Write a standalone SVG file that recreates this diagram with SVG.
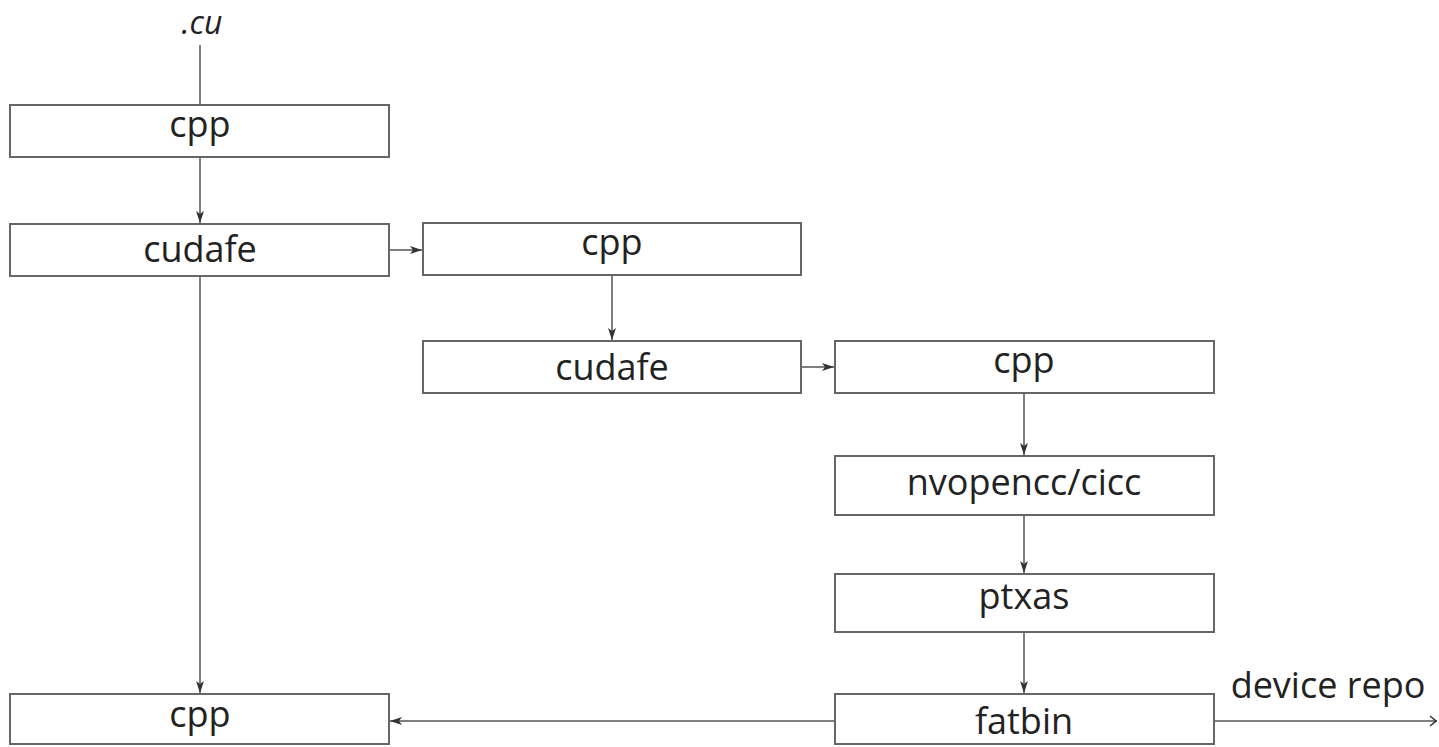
<svg xmlns="http://www.w3.org/2000/svg" width="1439" height="747" viewBox="0 0 1439 747">
<defs>
<style>
.box{fill:#fff;stroke:#666;stroke-width:2}
.t{font-family:"Open Sans","DejaVu Sans",sans-serif;font-size:36px;fill:#222;text-anchor:middle}
.c{stroke:#555;stroke-width:1.5;fill:none}
</style>
<marker id="ah" viewBox="0 0 12 10" refX="12" refY="5" markerWidth="12" markerHeight="10" markerUnits="userSpaceOnUse" orient="auto">
<path d="M0,1 L12,5 L0,9 L3,5 Z" fill="#333"/>
</marker>
<marker id="oh" viewBox="0 0 10 12" refX="10" refY="6" markerWidth="10" markerHeight="12" markerUnits="userSpaceOnUse" orient="auto">
<path d="M3,1 L9,6 L3,11" fill="none" stroke="#333" stroke-width="1.5"/>
</marker>
</defs>
<rect width="1439" height="747" fill="#fff"/>
<text x="202" y="34" class="t" style="font-style:italic;font-size:32px">.cu</text>
<g id="connectors">
<line class="c" x1="200" y1="45" x2="200" y2="105"/>
<line class="c" x1="200" y1="157" x2="200" y2="223" marker-end="url(#ah)"/>
<line class="c" x1="389" y1="250" x2="422" y2="250" marker-end="url(#ah)"/>
<line class="c" x1="612" y1="275" x2="612" y2="340" marker-end="url(#ah)"/>
<line class="c" x1="801" y1="367" x2="834" y2="367" marker-end="url(#ah)"/>
<line class="c" x1="1024" y1="393" x2="1024" y2="455" marker-end="url(#ah)"/>
<line class="c" x1="1024" y1="515" x2="1024" y2="573" marker-end="url(#ah)"/>
<line class="c" x1="1024" y1="632" x2="1024" y2="693" marker-end="url(#ah)"/>
<line class="c" x1="200" y1="276" x2="200" y2="693" marker-end="url(#ah)"/>
<line class="c" x1="835" y1="721" x2="390" y2="721" marker-end="url(#ah)"/>
<line class="c" x1="1214" y1="721" x2="1437" y2="721" marker-end="url(#oh)"/>
</g>
<g id="n1"><rect class="box" x="10" y="105" width="379" height="52"/><text class="t" x="200" y="137">cpp</text></g>
<g id="n2"><rect class="box" x="10" y="224" width="379" height="52"/><text class="t" x="200" y="262">cudafe</text></g>
<g id="n3"><rect class="box" x="423" y="223" width="378" height="52"/><text class="t" x="612" y="255">cpp</text></g>
<g id="n4"><rect class="box" x="423" y="341" width="378" height="52"/><text class="t" x="612" y="380">cudafe</text></g>
<g id="n5"><rect class="box" x="835" y="341" width="379" height="52"/><text class="t" x="1024" y="373">cpp</text></g>
<g id="n6"><rect class="box" x="835" y="456" width="379" height="59"/><text class="t" x="1024" y="495">nvopencc/cicc</text></g>
<g id="n7"><rect class="box" x="835" y="574" width="379" height="58"/><text class="t" x="1024" y="609">ptxas</text></g>
<g id="n8"><rect class="box" x="835" y="694" width="379" height="50"/><text class="t" x="1024" y="734">fatbin</text></g>
<g id="n9"><rect class="box" x="10" y="694" width="379" height="50"/><text class="t" x="200" y="727">cpp</text></g>
<text class="t" x="1328" y="698">device repo</text>
</svg>
